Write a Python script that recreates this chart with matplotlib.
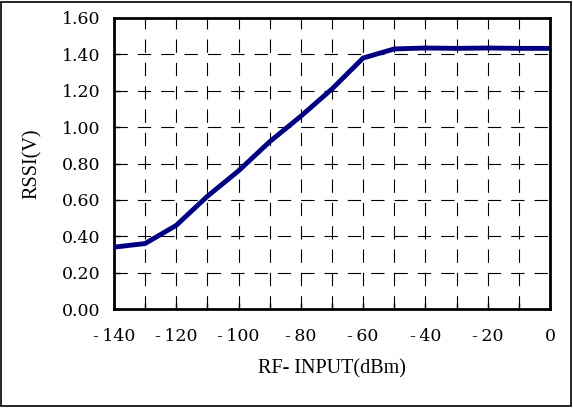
import numpy as np
import matplotlib
matplotlib.use("Agg")
import matplotlib.pyplot as plt
from matplotlib.patches import Rectangle

rf_input = [-140, -130, -120, -110, -100, -90, -80, -70, -60, -50, -40, -30, -20, -10, 0]
rssi = [0.34, 0.36, 0.46, 0.62, 0.76, 0.92, 1.06, 1.21, 1.38, 1.43, 1.435, 1.433, 1.435, 1.433, 1.433]

x_ticks = [-140, -120, -100, -80, -60, -40, -20, 0]
x_labels = ["-\u2009140", "-\u2009120", "-\u2009100", "-\u200980", "-\u200960", "-\u200940", "-\u200920", "0"]
y_ticks = [0.0, 0.2, 0.4, 0.6, 0.8, 1.0, 1.2, 1.4, 1.6]

plt.rcParams['font.family'] = ['Liberation Serif', 'DejaVu Serif']

fig = plt.figure(figsize=(5.73, 4.08), dpi=100)
ax = fig.add_axes([114/573, 1 - 309/408, 436/573, 291/408])

ax.plot(rf_input, rssi, color="#000080", linewidth=3.5, solid_joinstyle="miter", zorder=3)

ax.set_xlim(-140, 0)
ax.set_ylim(0, 1.6)
ax.set_xticks(x_ticks)
ax.set_xticks(np.arange(-130, 0, 20), minor=True)
ax.set_yticks(y_ticks)
ax.set_xticklabels(x_labels, family="DejaVu Serif", fontsize=12.5)
ax.set_yticklabels(["%.2f" % v for v in y_ticks], family="DejaVu Serif", fontsize=12.5)

ax.grid(True, which="both", color="black", linestyle=(0, (12, 9)), linewidth=0.8)
ax.tick_params(which="both", direction="in", length=4, width=1)
ax.tick_params(axis="x", which="both", top=False, pad=14)
ax.tick_params(axis="y", pad=10)
for s in ax.spines.values():
    s.set_linewidth(2)

ax.set_xlabel("RF- INPUT(dBm)", fontsize=14.5, labelpad=10)
ax.set_ylabel("RSSI(V)", fontsize=14.5, labelpad=14)

fig.patches.append(Rectangle((1/573, 2/408), 570/573, 404/408, transform=fig.transFigure,
                             fill=False, edgecolor="black", linewidth=1.2))

fig.savefig("out.png", dpi=100)
